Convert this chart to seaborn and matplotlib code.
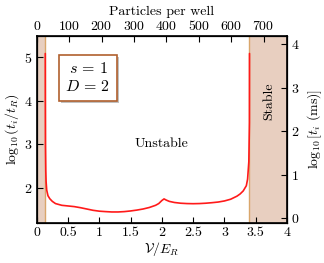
import numpy as np
import pandas as pd
import matplotlib
matplotlib.use("Agg")
import matplotlib.pyplot as plt
import matplotlib.patheffects as pe
import seaborn as sns

# lifetime curve
V = [0.137, 0.138, 0.140, 0.145, 0.150, 0.160, 0.180, 0.210, 0.250, 0.300,
     0.400, 0.500, 0.600, 0.700, 0.800, 0.900, 1.000, 1.100, 1.200, 1.300,
     1.400, 1.500, 1.600, 1.700, 1.800, 1.900, 1.950, 2.000, 2.035, 2.070,
     2.120, 2.200, 2.300, 2.400, 2.500, 2.600, 2.700, 2.800, 2.900, 3.000,
     3.100, 3.200, 3.250, 3.300, 3.350, 3.370, 3.390, 3.400, 3.401]
log_t = [5.09, 4.00, 3.00, 2.40, 2.15, 1.95, 1.82, 1.75, 1.69, 1.64,
         1.60, 1.585, 1.57, 1.545, 1.515, 1.485, 1.465, 1.455, 1.447, 1.447,
         1.455, 1.47, 1.49, 1.515, 1.55, 1.60, 1.64, 1.71, 1.747, 1.72,
         1.69, 1.665, 1.648, 1.64, 1.637, 1.64, 1.648, 1.66, 1.675, 1.70,
         1.74, 1.81, 1.86, 1.93, 2.05, 2.20, 2.60, 3.50, 5.09]

stable_lo = 0.137
stable_hi = 3.40
t_offset = 1.306        # log10(t_R / ms) shift for right axis
particles_per_unit = 193.1

df = pd.DataFrame({"V": V, "logt": log_t})

sns.set_style("ticks")
plt.rcParams["font.family"] = ["cmr10"]
plt.rcParams["mathtext.fontset"] = "cm"
plt.rcParams["axes.formatter.use_mathtext"] = True
plt.rcParams["font.size"] = 10
plt.rcParams["text.color"] = "black"
plt.rcParams["axes.labelcolor"] = "black"
plt.rcParams["xtick.color"] = "black"
plt.rcParams["ytick.color"] = "black"
plt.rcParams["axes.edgecolor"] = "black"

fig = plt.figure(figsize=(3.24, 2.63), dpi=100)
ax = fig.add_axes([36.7 / 324, 1 - 222.7 / 263, 250.3 / 324, 187 / 263])

shade = "#e8cfc0"
edge = "#d9a66b"
ax.axvspan(0, stable_lo, color=shade, lw=0, zorder=0)
ax.axvspan(stable_hi, 4, color=shade, lw=0, zorder=0)
ax.axvline(stable_lo, color=edge, lw=1.0, zorder=1)
ax.axvline(stable_hi, color=edge, lw=1.0, zorder=1)

sns.lineplot(data=df, x="V", y="logt", ax=ax, color="#ff1a1a", lw=1.2,
             sort=False, estimator=None, zorder=3)

ax.set_xlim(0, 4)
ax.set_ylim(1.2, 5.5)
ax.set_xticks([0, 0.5, 1, 1.5, 2, 2.5, 3, 3.5, 4])
ax.set_xticklabels(["0", "0.5", "1", "1.5", "2", "2.5", "3", "3.5", "4"])
ax.set_yticks([2, 3, 4, 5])
ax.set_xlabel(r"$\mathcal{V}/E_R$", labelpad=1)
ax.set_ylabel(r"$\log_{10}(t_i/t_R)$", labelpad=2)
ax.tick_params(direction="in", length=4, width=0.8, pad=3)

for s in ax.spines.values():
    s.set_linewidth(1.2)

# top axis: particles per well
axt = ax.twiny()
axt.set_xlim(0, 4 * particles_per_unit)
axt.set_xticks(np.arange(0, 701, 100))
axt.set_xlabel("Particles per well", labelpad=3)
axt.tick_params(direction="in", length=4, width=0.8, pad=2)

# right axis: lifetime in ms
axr = ax.twinx()
axr.set_ylim(1.2 - t_offset, 5.5 - t_offset)
axr.set_yticks([0, 1, 2, 3, 4])
axr.set_ylabel(r"$\log_{10}[t_i\ (\mathrm{ms})]$", labelpad=4)
axr.tick_params(direction="in", length=4, width=0.8, pad=3)

ax.text(2.0, 3.0, "Unstable", ha="center", va="center")
ax.text(3.72, 4.0, "Stable", ha="center", va="center", rotation=90)

box = ax.text(0.205, 0.774, "$s\\,=\\,1$\n$D\\,=\\,2$", transform=ax.transAxes,
              ha="center", va="center", fontsize=11.5, linespacing=1.25,
              bbox=dict(boxstyle="square,pad=0.4", fc="white", ec="#b0602e", lw=1.2))
box.get_bbox_patch().set_path_effects(
    [pe.SimplePatchShadow(offset=(1.5, -1.5), shadow_rgbFace="#999999", alpha=0.6),
     pe.Normal()])

fig.savefig("out.png", dpi=100)
